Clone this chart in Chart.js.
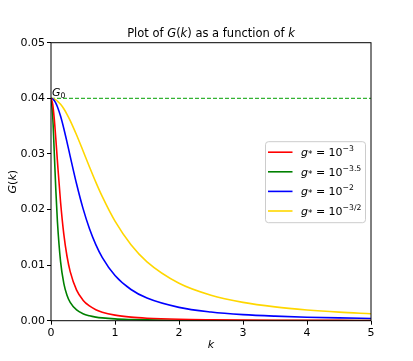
<!DOCTYPE html>
<html lang="en">
<head>
<meta charset="UTF-8">
<title>Plot of G(k) as a function of k</title>
<script src="https://cdn.jsdelivr.net/npm/chart.js"></script>
<style>body{margin:0;background:#fff}</style>
</head>
<body>
<canvas id="gChart" width="413" height="361"></canvas>
<script>
// values
const kValues = [0, 0.025, 0.05, 0.075, 0.1, 0.15, 0.2, 0.25, 0.3, 0.4, 0.5, 0.6, 0.7, 0.8, 1.0, 1.25, 1.5, 2, 2.5, 3, 3.5, 4, 4.5, 5];
const gRed    = [0.04, 0.03904, 0.03643, 0.03277, 0.02874, 0.02125, 0.01557, 0.01159, 0.00883, 0.0055, 0.0037, 0.00265, 0.00198, 0.00153, 0.001, 0.00064, 0.00045, 0.00025, 0.00016, 0.00011, 0.00008, 0.00006, 0.00005, 0.00004];
const gGreen  = [0.04, 0.03713, 0.03057, 0.02361, 0.0179, 0.01058, 0.00673, 0.00459, 0.0033, 0.00193, 0.00125, 0.00088, 0.00065, 0.0005, 0.00032, 0.00021, 0.00014, 0.00008, 0.00005, 0.00004, 0.00003, 0.00002, 0.00002, 0.00001];
const gBlue   = [0.04, 0.0399, 0.03961, 0.03914, 0.03849, 0.03676, 0.03458, 0.03213, 0.02956, 0.02458, 0.0202, 0.01658, 0.01369, 0.0114, 0.00813, 0.00561, 0.00407, 0.0024, 0.00157, 0.0011, 0.00082, 0.00063, 0.0005, 0.0004];
const gGold   = [0.04, 0.03997, 0.03988, 0.03972, 0.03951, 0.03892, 0.03812, 0.03713, 0.036, 0.0334, 0.03057, 0.0277, 0.02492, 0.02235, 0.0179, 0.01366, 0.01059, 0.00674, 0.00459, 0.0033, 0.00248, 0.00193, 0.00154, 0.00126];
const G0 = 0.04;
const g0Line = [G0, G0];
const legendExps = ['\u22123', '\u22123.5', '\u22122', '\u22123/2'];
const xTicks = [0, 1, 2, 3, 4, 5];
const yTicks = [0, 0.01, 0.02, 0.03, 0.04, 0.05];

const FONT = "'DejaVu Sans'";
Chart.defaults.font.family = FONT;
Chart.defaults.font.size = 11;
Chart.defaults.color = '#000';

function pts(ys) {
    return kValues.map((k, i) => ({ x: k, y: ys[i] }));
}

// draw a row of text pieces (normal / italic / sub / superscript)
function drawRuns(ctx, runs, x, y, align, size) {
    size = size || 11;
    let widths = runs.map(r => {
        ctx.font = (r.it ? 'italic ' : '') + (size * (r.sz || 1)) + 'px ' + FONT;
        return ctx.measureText(r.t).width;
    });
    let total = widths.reduce((a, b) => a + b, 0);
    let cx = align === 'center' ? x - total / 2 : x;
    ctx.textAlign = 'left';
    ctx.textBaseline = 'alphabetic';
    runs.forEach((r, i) => {
        ctx.font = (r.it ? 'italic ' : '') + (size * (r.sz || 1)) + 'px ' + FONT;
        ctx.fillText(r.t, cx, y + (r.dy || 0));
        cx += widths[i];
    });
}

const decor = {
    id: 'decor',
    beforeDraw(chart) {
        const ctx = chart.ctx;
        ctx.save();
        ctx.fillStyle = '#fff';
        ctx.fillRect(0, 0, chart.width, chart.height);
        ctx.restore();
    },
    afterDraw(chart) {
        const { ctx, chartArea: a, scales: { x, y } } = chart;
        ctx.save();
        ctx.fillStyle = '#000';
        ctx.strokeStyle = '#000';
        ctx.lineWidth = 1;
        ctx.strokeRect(a.left, a.top, a.right - a.left, a.bottom - a.top);

        const mid = (a.left + a.right) / 2;
        drawRuns(ctx, [
            { t: 'Plot of ' }, { t: 'G', it: true }, { t: '(' }, { t: 'k', it: true },
            { t: ') as a function of ' }, { t: 'k', it: true }
        ], mid, a.top - 6, 'center', 11.5);

        drawRuns(ctx, [{ t: 'k', it: true }], mid, a.bottom + 27, 'center');

        ctx.save();
        ctx.translate(16, (a.top + a.bottom) / 2);
        ctx.rotate(-Math.PI / 2);
        drawRuns(ctx, [{ t: 'G', it: true }, { t: '(' }, { t: 'k', it: true }, { t: ')' }], 0, 0, 'center');
        ctx.restore();

        drawRuns(ctx, [{ t: 'G', it: true }, { t: '0', sz: 0.7, dy: 2 }],
            x.getPixelForValue(0) + 1, y.getPixelForValue(G0) - 2, 'left');

        // legend box
        const bw = 100, bh = 81;
        const bx = a.right - 6 - bw;
        const by = (a.top + a.bottom) / 2 - bh / 2;
        ctx.beginPath();
        ctx.roundRect(bx + 0.5, by + 0.5, bw, bh, 3);
        ctx.fillStyle = 'rgba(255,255,255,0.8)';
        ctx.fill();
        ctx.strokeStyle = '#cccccc';
        ctx.stroke();
        chart.data.datasets.slice(0, 4).forEach((ds, i) => {
            const ry = by + 11 + i * 19.6;
            ctx.beginPath();
            ctx.strokeStyle = ds.borderColor;
            ctx.lineWidth = 1.6;
            ctx.moveTo(bx + 3, ry);
            ctx.lineTo(bx + 27.5, ry);
            ctx.stroke();
            ctx.fillStyle = '#000';
            drawRuns(ctx, [
                { t: 'g', it: true }, { t: '*', sz: 0.8, dy: 1 }, { t: ' = 10' },
                { t: legendExps[i], sz: 0.7, dy: -5 }
            ], bx + 36, ry + 4, 'left');
        });
        ctx.restore();
    }
};

const line = (data, color) => ({
    data: pts(data),
    borderColor: color,
    borderWidth: 1.6,
    pointRadius: 0,
    fill: false,
    cubicInterpolationMode: 'monotone'
});

new Chart(document.getElementById('gChart'), {
    type: 'line',
    data: {
        datasets: [
            line(gRed, '#ff0000'),
            line(gGreen, '#008000'),
            line(gBlue, '#0000ff'),
            line(gGold, '#ffd700'),
            {
                data: [{ x: xTicks[0], y: g0Line[0] }, { x: xTicks[xTicks.length - 1], y: g0Line[1] }],
                borderColor: '#00a000',
                borderWidth: 1,
                borderDash: [4, 2],
                pointRadius: 0,
                fill: false
            }
        ]
    },
    options: {
        responsive: false,
        animation: false,
        devicePixelRatio: 1,
        layout: { padding: { left: 0, top: 42.7, right: 42, bottom: 0 } },
        plugins: { legend: { display: false }, title: { display: false }, tooltip: { enabled: false } },
        scales: {
            x: {
                type: 'linear', min: 0, max: 5,
                afterBuildTicks: s => { s.ticks = xTicks.map(v => ({ value: v })); },
                afterFit: s => { s.height = 40.3; },
                grid: { drawOnChartArea: false, drawTicks: true, tickLength: 4, color: '#000' },
                border: { display: false },
                ticks: { padding: 2, font: { size: 11 }, callback: v => String(v) }
            },
            y: {
                type: 'linear', min: 0, max: 0.05,
                afterBuildTicks: s => { s.ticks = yTicks.map(v => ({ value: v })); },
                afterFit: s => { s.width = 51; },
                grid: { drawOnChartArea: false, drawTicks: true, tickLength: 4, color: '#000' },
                border: { display: false },
                ticks: { padding: 2, font: { size: 11 }, callback: v => v.toFixed(2) }
            }
        }
    },
    plugins: [decor]
});
</script>
</body>
</html>
